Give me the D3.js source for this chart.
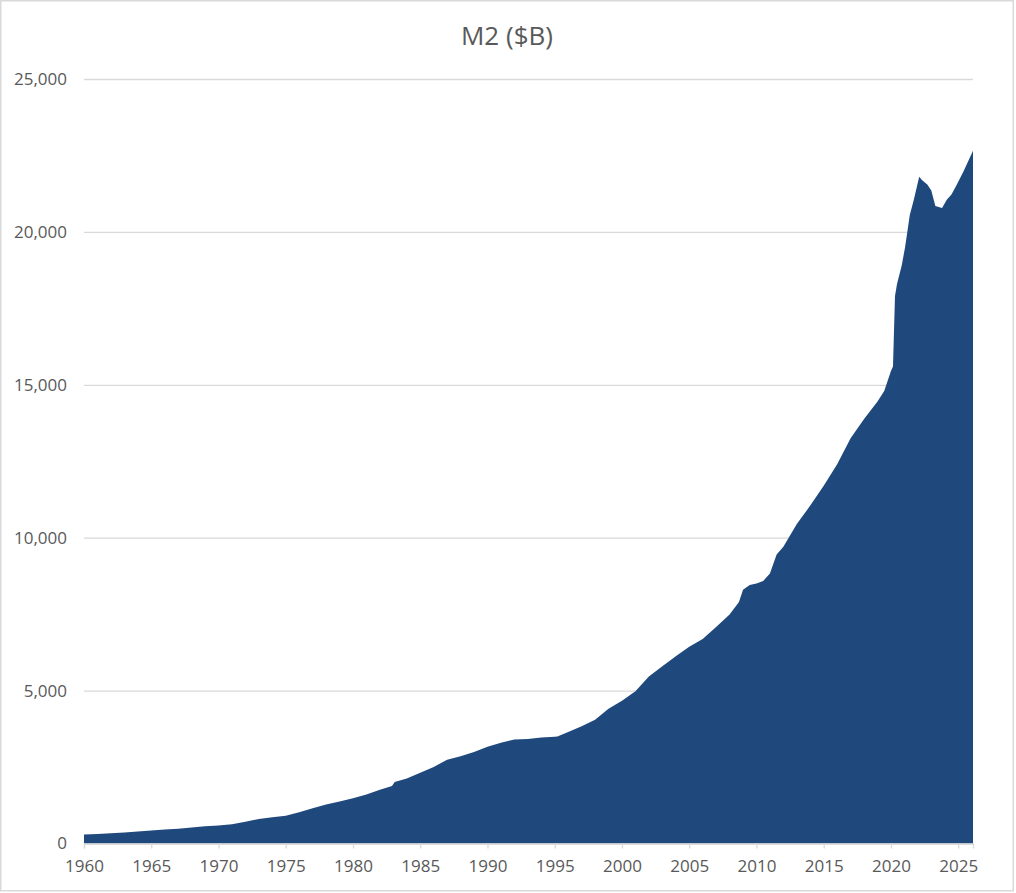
<!DOCTYPE html>
<html>
<head>
<meta charset="utf-8">
<script src="https://cdn.jsdelivr.net/npm/d3@7"></script>
<style>
  html, body { margin: 0; padding: 0; background: #fff; }
  #chart { width: 1016px; height: 893px; }
  text { font-family: "Open Sans", "Liberation Sans", sans-serif; fill: #595959; }
</style>
</head>
<body>
<div id="chart"></div>
<script>
// M2 money stock, $ billions
const years = [
  1960, 1961, 1962, 1963, 1964, 1965, 1966, 1967, 1968, 1969,
  1970, 1971, 1972, 1973, 1974, 1975, 1976, 1977, 1978, 1979,
  1980, 1981, 1982, 1982.9, 1983.1, 1984, 1985, 1986, 1987, 1988, 1989,
  1990, 1991, 1992, 1993, 1994, 1995, 1995.2, 1996, 1997, 1998, 1999,
  2000, 2001, 2002, 2003, 2004, 2005, 2006, 2007, 2008, 2008.7, 2009,
  2009.5, 2010, 2010.5, 2011, 2011.5, 2012, 2013, 2014, 2015, 2016,
  2017, 2018, 2019, 2019.5, 2020, 2020.15, 2020.3, 2020.45, 2020.8,
  2021.05, 2021.4, 2021.7, 2022.1, 2022.3, 2022.7, 2023, 2023.3, 2023.8,
  2024.15, 2024.5, 2024.9, 2025.4, 2026.1
];
const m2 = [
  295, 312, 335, 362, 392, 425, 458, 482, 526, 568,
  588, 628, 712, 803, 856, 905, 1020, 1152, 1278, 1370,
  1480, 1602, 1755, 1880, 2010, 2125, 2315, 2505, 2740, 2850, 2995,
  3165, 3295, 3400, 3418, 3470, 3490, 3495, 3643, 3834, 4050, 4405,
  4670, 4980, 5460, 5800, 6120, 6430, 6690, 7080, 7490, 7900, 8300,
  8450, 8500, 8580, 8830, 9450, 9700, 10450, 11050, 11700, 12400,
  13250, 13880, 14450, 14800, 15450, 15600, 17900, 18300, 18900,
  19500, 20550, 21050, 21800, 21700, 21550, 21350, 20850, 20780,
  21050, 21220, 21550, 21980, 22650
];
const yTicks = [0, 5000, 10000, 15000, 20000, 25000];
const xTicks = [1960, 1965, 1970, 1975, 1980, 1985, 1990, 1995, 2000, 2005, 2010, 2015, 2020, 2025];
const title = "M2 ($B)";

const data = years.map((d, i) => ({year: d, value: m2[i]}));

const width = 1016, height = 893;
const margin = {top: 79, right: 43, bottom: 49.5, left: 84};
const innerW = width - margin.left - margin.right;
const innerH = height - margin.top - margin.bottom;

const svg = d3.select("#chart").append("svg")
    .attr("width", width)
    .attr("height", height);

// chart border
svg.append("rect")
    .attr("x", 0.75).attr("y", 0.75)
    .attr("width", 1012.5).attr("height", 890)
    .attr("fill", "#fff")
    .attr("stroke", "#d9d9d9")
    .attr("stroke-width", 1.5);

svg.append("text")
    .attr("x", 507)
    .attr("y", 45)
    .attr("text-anchor", "middle")
    .style("font-size", "26px")
    .text(title);

const g = svg.append("g")
    .attr("transform", "translate(" + margin.left + "," + margin.top + ")");

const x = d3.scaleLinear()
    .domain([1960, 2026.1])
    .range([0, innerW]);

const y = d3.scaleLinear()
    .domain([0, 25000])
    .range([innerH, 0]);

// gridlines + y labels
const yAxis = d3.axisLeft(y)
    .tickValues(yTicks)
    .tickSize(-innerW)
    .tickPadding(17)
    .tickFormat(d3.format(","));

g.append("g")
    .attr("class", "y-axis")
    .call(yAxis)
    .call(a => a.select(".domain").remove())
    .call(a => a.selectAll("line").attr("stroke", "#d9d9d9").attr("stroke-width", 1.3))
    .call(a => a.selectAll("text").style("font-size", "17px").attr("fill", "#595959"));

// area
const area = d3.area()
    .x(d => x(d.year))
    .y0(y(0))
    .y1(d => y(d.value));

g.append("path")
    .datum(data)
    .attr("fill", "#1f497d")
    .attr("d", area);

// x axis
const xAxis = d3.axisBottom(x)
    .tickValues(xTicks)
    .tickSize(5)
    .tickPadding(11)
    .tickFormat(d3.format("d"));

g.append("g")
    .attr("class", "x-axis")
    .attr("transform", "translate(0," + innerH + ")")
    .call(xAxis)
    .call(a => a.select(".domain").attr("stroke", "#d9d9d9").attr("stroke-width", 1.3))
    .call(a => a.selectAll("line").attr("stroke", "#d9d9d9").attr("stroke-width", 1.3))
    .call(a => a.selectAll("text").style("font-size", "17px").attr("fill", "#595959"));
</script>
</body>
</html>
